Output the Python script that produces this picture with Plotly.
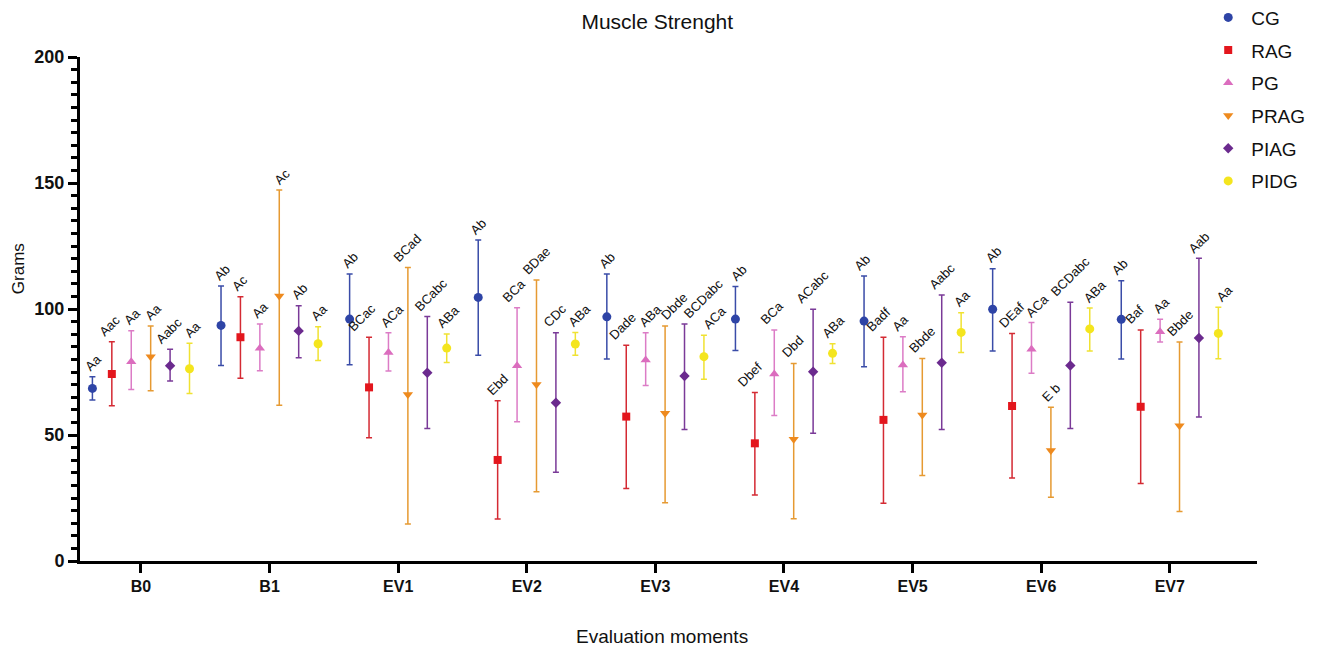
import plotly.graph_objects as go

categories = ["B0", "B1", "EV1", "EV2", "EV3", "EV4", "EV5", "EV6", "EV7"]
groups = ["CG", "RAG", "PG", "PRAG", "PIAG", "PIDG"]

mean_CG = [68.5, 93.5, 96.0, 104.6, 96.9, 96.0, 95.2, 99.9, 95.9]
upper_CG = [73.1, 109.1, 113.9, 127.4, 113.9, 108.9, 113.1, 116.0, 111.2]
lower_CG = [63.9, 77.6, 77.9, 81.6, 80.2, 83.5, 77.1, 83.3, 80.2]
labels_CG = ["Aa", "Ab", "Ab", "Ab", "Ab", "Ab", "Ab", "Ab", "Ab"]

mean_RAG = [74.2, 88.8, 68.9, 40.1, 57.3, 46.7, 56.0, 61.5, 61.2]
upper_RAG = [87.0, 104.9, 88.8, 63.6, 85.6, 66.9, 88.8, 90.3, 91.7]
lower_RAG = [61.6, 72.5, 48.9, 16.7, 28.8, 26.2, 22.9, 32.9, 30.8]
labels_RAG = ["Aac", "Ac", "BCac", "Ebd", "Dade", "Dbef", "Badf", "DEaf", "Baf"]

mean_PG = [79.1, 84.4, 82.7, 77.5, 79.8, 74.2, 77.8, 84.0, 91.0]
upper_PG = [91.4, 94.0, 90.6, 100.5, 90.6, 91.7, 89.0, 94.6, 95.9]
lower_PG = [68.1, 75.5, 75.4, 55.3, 69.6, 57.7, 67.2, 74.5, 86.9]
labels_PG = ["Aa", "Aa", "ACa", "BCa", "ABa", "BCa", "Aa", "ACa", "Aa"]

mean_PRAG = [81.1, 105.2, 66.1, 70.0, 58.6, 48.3, 57.9, 43.8, 53.7]
upper_PRAG = [93.3, 147.2, 116.5, 111.5, 93.3, 78.4, 80.4, 61.0, 86.9]
lower_PRAG = [67.6, 61.8, 14.7, 27.5, 23.1, 16.8, 33.9, 25.3, 19.6]
labels_PRAG = ["Aa", "Ac", "BCad", "BDae", "Dbde", "Dbd", "Bbde", "E b", "Bbde"]

mean_PIAG = [77.5, 91.3, 74.7, 62.8, 73.4, 75.1, 78.7, 77.6, 88.5]
upper_PIAG = [84.0, 101.3, 97.0, 90.6, 94.0, 99.9, 105.6, 102.7, 120.1]
lower_PIAG = [71.4, 80.7, 52.6, 35.2, 52.2, 50.7, 52.2, 52.6, 57.1]
labels_PIAG = ["Aabc", "Ab", "BCabc", "CDc", "BCDabc", "ACabc", "Aabc", "BCDabc", "Aab"]

mean_PIDG = [76.3, 86.2, 84.5, 86.1, 81.1, 82.4, 90.7, 92.1, 90.3]
upper_PIDG = [86.4, 93.0, 90.1, 90.7, 89.6, 86.2, 98.5, 100.4, 100.7]
lower_PIDG = [66.5, 79.6, 78.8, 81.6, 72.1, 78.4, 82.7, 83.3, 80.3]
labels_PIDG = ["Aa", "Aa", "ABa", "ABa", "ACa", "ABa", "Aa", "ABa", "Aa"]

series = [
    ("CG", mean_CG, upper_CG, lower_CG, labels_CG),
    ("RAG", mean_RAG, upper_RAG, lower_RAG, labels_RAG),
    ("PG", mean_PG, upper_PG, lower_PG, labels_PG),
    ("PRAG", mean_PRAG, upper_PRAG, lower_PRAG, labels_PRAG),
    ("PIAG", mean_PIAG, upper_PIAG, lower_PIAG, labels_PIAG),
    ("PIDG", mean_PIDG, upper_PIDG, lower_PIDG, labels_PIDG),
]

styles = {
    "CG": dict(color="#2E44A6", bar="#3A4CA8", symbol="circle", size=9),
    "RAG": dict(color="#E3161D", bar="#D42A33", symbol="square", size=8),
    "PG": dict(color="#DB6DBE", bar="#DC7CC6", symbol="triangle-up", size=9),
    "PRAG": dict(color="#EE8A1E", bar="#E69A32", symbol="triangle-down", size=9),
    "PIAG": dict(color="#6B2A8E", bar="#7A3A98", symbol="diamond", size=8),
    "PIDG": dict(color="#F4E51E", bar="#F0E232", symbol="circle", size=9),
}

# small horizontal nudges (px) of the letter labels, as in the original layout
label_dx = {
    "CG": [1, 1, 0, 0, 0, 4, -2, 1, -1],
    "RAG": [-2, 0, -7, 0, -4, -5, -5, -1, -6],
    "PG": [1, 1, 4, -3, 5, -2, -2, 6, 1],
    "PRAG": [3, 3, 0, 0, 9, -1, 0, 0, 0],
    "PIAG": [-1, 1, 4, -1, 19, 0, 0, 0, 0],
    "PIDG": [3, 1, 2, 4, 11, 1, 1, 5, 6],
}

FONT = "Liberation Sans, Arial, sans-serif"
step = 0.151
fig = go.Figure()
annotations = []
for i, (name, mean, up, lo, labs) in enumerate(series):
    st = styles[name]
    off = (i - 2.5) * step
    xs = [k + off for k in range(len(categories))]
    fig.add_trace(go.Scatter(
        x=xs, y=mean, mode="markers", name=name, legendgroup=name,
        marker=dict(color=st["color"], symbol=st["symbol"], size=st["size"]),
        error_y=dict(type="data", symmetric=False,
                     array=[u - m for u, m in zip(up, mean)],
                     arrayminus=[m - l for m, l in zip(mean, lo)],
                     color=st["bar"], thickness=1.5, width=3),
    ))
    for x, u, t, dx in zip(xs, up, labs, label_dx[name]):
        annotations.append(dict(
            x=x, y=u, xref="x", yref="y", text=t, showarrow=False,
            textangle=-45, xanchor="center", yanchor="bottom", yshift=0, xshift=dx,
            font=dict(family=FONT, size=13, color="#111111"),
        ))

annotations.append(dict(
    text="Grams", xref="paper", yref="paper", x=-0.0527, y=0.581,
    xanchor="center", yanchor="middle", textangle=-90, showarrow=False,
    font=dict(family=FONT, size=17, color="#111111"),
))
annotations.append(dict(
    text="Evaluation moments", xref="paper", yref="paper", x=0.4945, y=-0.149,
    xanchor="center", yanchor="middle", showarrow=False,
    font=dict(family=FONT, size=19, color="#111111"),
))

fig.update_layout(
    width=1317, height=658,
    paper_bgcolor="white", plot_bgcolor="white",
    margin=dict(l=72, r=68, t=49, b=105, autoexpand=False),
    font=dict(family=FONT, color="#000000"),
    title=dict(text="Muscle Strenght", x=0.493, xanchor="center", y=0.98, yanchor="middle",
               font=dict(size=21, color="#111111")),
    showlegend=True,
    legend=dict(x=0.956, y=1.116, xanchor="left", yanchor="top",
                bgcolor="rgba(0,0,0,0)", font=dict(size=19, color="#111111"),
                tracegroupgap=5, itemsizing="trace", itemwidth=36),
    annotations=annotations,
    xaxis=dict(
        range=[-0.474, 8.678], tickmode="array",
        tickvals=list(range(len(categories))), ticktext=categories,
        showgrid=False, zeroline=False, showline=True, linecolor="black", linewidth=3,
        ticks="outside", ticklen=9, tickwidth=3, tickcolor="black", automargin=False,
        tickfont=dict(size=16, color="#111111", family=FONT, weight="bold"),
    ),
    yaxis=dict(
        range=[0, 200], tickmode="array", tickvals=[0, 50, 100, 150, 200],
        showgrid=False, zeroline=False, showline=True, linecolor="black", linewidth=3,
        ticks="outside", ticklen=9, tickwidth=3, tickcolor="black", automargin=False,
        minor=dict(dtick=5, ticks="outside", ticklen=6, tickwidth=2.5, tickcolor="black", showgrid=False),
        tickfont=dict(size=18, color="#111111", family=FONT, weight="bold"),
    ),
)

fig.write_html("out.html")
